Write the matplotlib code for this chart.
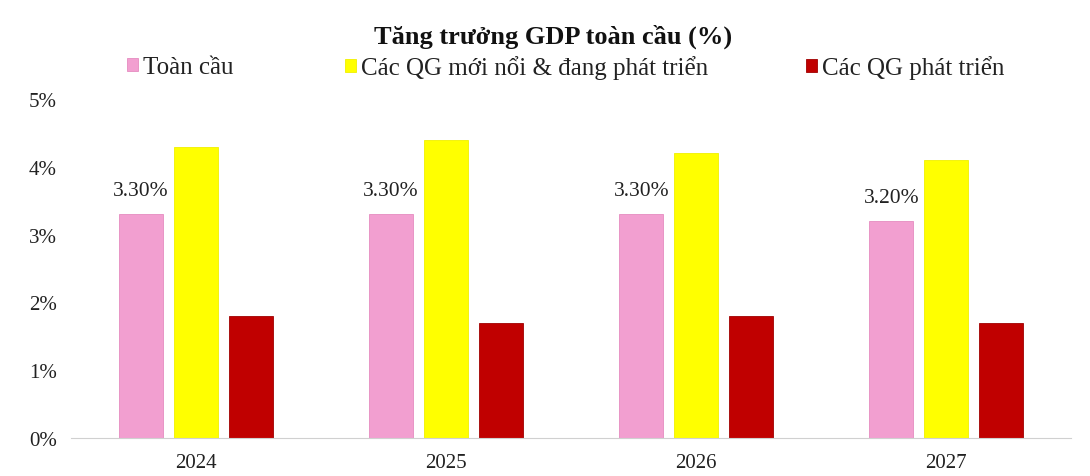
import matplotlib.pyplot as plt
import numpy as np

years = ['2024', '2025', '2026', '2027']
global_gdp = [3.3, 3.3, 3.3, 3.2]
emerging = [4.3, 4.4, 4.2, 4.1]
advanced = [1.8, 1.7, 1.8, 1.7]
series_names = ['Toàn cầu', 'Các QG mới nổi & đang phát triển', 'Các QG phát triển']

plt.rcParams['font.family'] = ['Liberation Serif', 'DejaVu Serif']

fig = plt.figure(figsize=(10.9, 4.77), dpi=100)
ax = fig.add_axes([0.065, 0.08, 0.918, 0.71])

x = np.arange(len(years))
w = 0.176
step = 0.22
colors = ['#f29fd0', '#ffff00', '#c00000']
edges = ['#e58cc0', '#f0f000', '#a00000']
handles = []
for i, (vals, name) in enumerate(zip([global_gdp, emerging, advanced], series_names)):
    bars = ax.bar(x + (i - 1) * step, vals, width=w, color=colors[i],
                  edgecolor=edges[i], linewidth=0.6, label=name)
    handles.append(bars)
    if i == 0:
        for b, v in zip(bars, vals):
            ax.annotate(f'{v:.2f}%', (b.get_x() + b.get_width() / 2, v),
                        xytext=(0, 10), textcoords='offset points',
                        ha='center', va='bottom', fontsize=15.5, color='#222222')

ax.set_xlim(-0.5, 3.5)
ax.set_ylim(0, 5)
ax.set_yticks(range(6))
ax.set_yticklabels([f'{t}%' for t in range(6)])
ax.set_xticks(x)
ax.set_xticklabels(years)
ax.tick_params(length=0, labelsize=15, colors='#222222')
ax.tick_params(axis='y', pad=10)
ax.tick_params(axis='x', pad=11)
for s in ['top', 'right', 'left']:
    ax.spines[s].set_visible(False)
ax.spines['bottom'].set_color('#d0d0d0')

fig.text(0.507, 0.922, 'Tăng trưởng GDP toàn cầu (%)', ha='center', va='center',
         fontsize=19, fontweight='bold', color='#111111')

# legend entries placed one by one, like the original
leg_x = [127, 345, 806]
for h, name, lx in zip(handles, series_names, leg_x):
    leg = fig.legend([h], [name], loc='center left', bbox_to_anchor=(lx / 1090, 0.857),
                     frameon=False, fontsize=18, handlelength=0.45, handleheight=0.45,
                     handletextpad=0.2, borderpad=0, borderaxespad=0)
    for t in leg.get_texts():
        t.set_color('#222222')

fig.savefig('out.png', dpi=100)
